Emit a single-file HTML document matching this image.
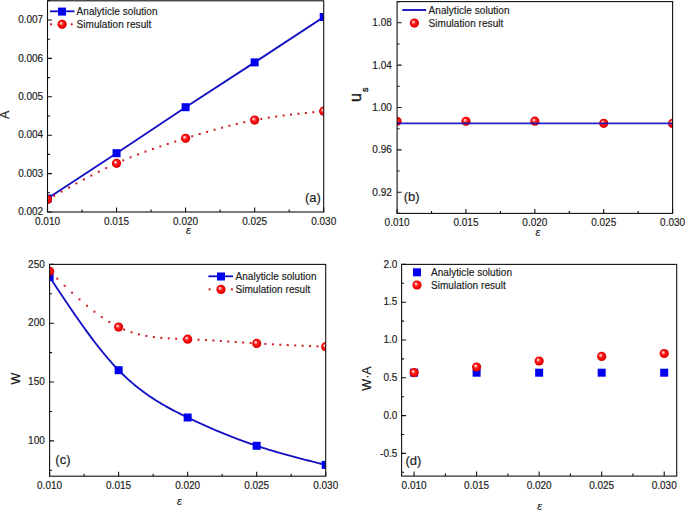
<!DOCTYPE html>
<html><head><meta charset="utf-8"><style>
html,body{margin:0;padding:0;background:#fff;}
body{width:685px;height:510px;overflow:hidden;}
svg{display:block;}
text{font-family:"Liberation Sans", sans-serif;fill:#1a1a1a;stroke:#1a1a1a;stroke-width:0.16px;}
.tk{font-size:10px;}
.lg{font-size:10px;letter-spacing:0.05px;}
.pl{font-size:13px;}
.at{font-size:12.5px;}
.us{font-size:16px;stroke-width:0.4px;}
.ep{font-family:"Liberation Sans",sans-serif;font-style:italic;font-size:11px;}
</style></head><body>
<svg width="685" height="510" viewBox="0 0 685 510">
<defs>
<radialGradient id="bg" cx="0.5" cy="0.5" r="0.5" fx="0.35" fy="0.34"><stop offset="0" stop-color="#ffeaea"/><stop offset="0.22" stop-color="#ffa0a0"/><stop offset="0.42" stop-color="#ff2222"/><stop offset="0.8" stop-color="#f00000"/><stop offset="1" stop-color="#d00000"/></radialGradient>
<clipPath id="ca"><rect x="47.5" y="0.8" width="276.2" height="211.2"/></clipPath>
<clipPath id="cb"><rect x="397.1" y="1.6" width="275.5" height="211.8"/></clipPath>
<clipPath id="cc"><rect x="49.6" y="264.4" width="276.1" height="211.8"/></clipPath>
<clipPath id="cd"><rect x="401.6" y="264.4" width="275.1" height="211.7"/></clipPath>
</defs>
<rect width="685" height="510" fill="#fff"/>
<g clip-path="url(#ca)">
<path d="M47.50,198.60 L116.55,153.20 L185.60,107.20 L254.65,62.40 L323.70,17.00" stroke="#1410c4" stroke-width="1.85" fill="none" stroke-linejoin="round"/>
<rect x="53.15" y="194.76" width="2.0" height="2.0" fill="#d01c24"/>
<rect x="60.58" y="190.59" width="2.0" height="2.0" fill="#d01c24"/>
<rect x="68.01" y="186.47" width="2.0" height="2.0" fill="#d01c24"/>
<rect x="75.44" y="182.4" width="2.0" height="2.0" fill="#d01c24"/>
<rect x="82.87" y="178.41" width="2.0" height="2.0" fill="#d01c24"/>
<rect x="90.3" y="174.52" width="2.0" height="2.0" fill="#d01c24"/>
<rect x="97.73" y="170.75" width="2.0" height="2.0" fill="#d01c24"/>
<rect x="105.16" y="167.11" width="2.0" height="2.0" fill="#d01c24"/>
<rect x="112.59" y="163.64" width="2.0" height="2.0" fill="#d01c24"/>
<rect x="122.2" y="159.4" width="2.0" height="2.0" fill="#d01c24"/>
<rect x="129.63" y="156.33" width="2.0" height="2.0" fill="#d01c24"/>
<rect x="137.06" y="153.41" width="2.0" height="2.0" fill="#d01c24"/>
<rect x="144.49" y="150.63" width="2.0" height="2.0" fill="#d01c24"/>
<rect x="151.92" y="147.97" width="2.0" height="2.0" fill="#d01c24"/>
<rect x="159.35" y="145.41" width="2.0" height="2.0" fill="#d01c24"/>
<rect x="166.78" y="142.95" width="2.0" height="2.0" fill="#d01c24"/>
<rect x="174.21" y="140.55" width="2.0" height="2.0" fill="#d01c24"/>
<rect x="181.64" y="138.22" width="2.0" height="2.0" fill="#d01c24"/>
<rect x="191.25" y="135.26" width="2.0" height="2.0" fill="#d01c24"/>
<rect x="198.68" y="133.02" width="2.0" height="2.0" fill="#d01c24"/>
<rect x="206.11" y="130.84" width="2.0" height="2.0" fill="#d01c24"/>
<rect x="213.54" y="128.73" width="2.0" height="2.0" fill="#d01c24"/>
<rect x="220.97" y="126.7" width="2.0" height="2.0" fill="#d01c24"/>
<rect x="228.4" y="124.77" width="2.0" height="2.0" fill="#d01c24"/>
<rect x="235.83" y="122.95" width="2.0" height="2.0" fill="#d01c24"/>
<rect x="243.26" y="121.25" width="2.0" height="2.0" fill="#d01c24"/>
<rect x="250.69" y="119.68" width="2.0" height="2.0" fill="#d01c24"/>
<rect x="260.3" y="117.88" width="2.0" height="2.0" fill="#d01c24"/>
<rect x="267.73" y="116.64" width="2.0" height="2.0" fill="#d01c24"/>
<rect x="275.16" y="115.53" width="2.0" height="2.0" fill="#d01c24"/>
<rect x="282.59" y="114.52" width="2.0" height="2.0" fill="#d01c24"/>
<rect x="290.02" y="113.6" width="2.0" height="2.0" fill="#d01c24"/>
<rect x="297.45" y="112.76" width="2.0" height="2.0" fill="#d01c24"/>
<rect x="304.88" y="111.97" width="2.0" height="2.0" fill="#d01c24"/>
<rect x="312.31" y="111.21" width="2.0" height="2.0" fill="#d01c24"/>
<rect x="319.74" y="110.49" width="2.0" height="2.0" fill="#d01c24"/>
<rect x="43.5" y="194.6" width="8" height="8" fill="#0000f0"/>
<rect x="112.55" y="149.2" width="8" height="8" fill="#0000f0"/>
<rect x="181.6" y="103.2" width="8" height="8" fill="#0000f0"/>
<rect x="250.65" y="58.4" width="8" height="8" fill="#0000f0"/>
<rect x="319.7" y="13" width="8" height="8" fill="#0000f0"/>
<circle cx="47.5" cy="199.5" r="4.6" fill="url(#bg)"/>
<circle cx="116.55" cy="163.3" r="4.6" fill="url(#bg)"/>
<circle cx="185.6" cy="138.3" r="4.6" fill="url(#bg)"/>
<circle cx="254.65" cy="120.1" r="4.6" fill="url(#bg)"/>
<circle cx="323.7" cy="111.2" r="4.6" fill="url(#bg)"/>
</g>
<path d="M47.5,212V207.5 M116.55,212V207.5 M185.6,212V207.5 M254.65,212V207.5 M323.7,212V207.5 M82.03,212V209.5 M151.08,212V209.5 M220.12,212V209.5 M289.18,212V209.5 M47.5,212H52 M47.5,173.6H52 M47.5,135.2H52 M47.5,96.8H52 M47.5,58.4H52 M47.5,20H52 M47.5,192.8H50 M47.5,154.4H50 M47.5,116H50 M47.5,77.6H50 M47.5,39.2H50 M47.5,0.8H50" stroke="#111" stroke-width="1.1" fill="none"/>
<rect x="47.5" y="0.8" width="276.2" height="211.2" stroke="#111" stroke-width="1.1" fill="none"/>
<text x="43.2" y="215.1" text-anchor="end" class="tk">0.002</text>
<text x="43.2" y="176.7" text-anchor="end" class="tk">0.003</text>
<text x="43.2" y="138.3" text-anchor="end" class="tk">0.004</text>
<text x="43.2" y="99.9" text-anchor="end" class="tk">0.005</text>
<text x="43.2" y="61.5" text-anchor="end" class="tk">0.006</text>
<text x="43.2" y="23.1" text-anchor="end" class="tk">0.007</text>
<text x="47.5" y="224.8" text-anchor="middle" class="tk">0.010</text>
<text x="116.55" y="224.8" text-anchor="middle" class="tk">0.015</text>
<text x="185.6" y="224.8" text-anchor="middle" class="tk">0.020</text>
<text x="254.65" y="224.8" text-anchor="middle" class="tk">0.025</text>
<text x="323.7" y="224.8" text-anchor="middle" class="tk">0.030</text>
<path d="M50,11.3H74.5" stroke="#1410c4" stroke-width="1.85"/>
<rect x="58" y="7.6" width="8" height="8" fill="#0000f0"/>
<rect x="50" y="23.3" width="2.0" height="2.0" fill="#d01c24"/>
<rect x="70.7" y="23.3" width="2.0" height="2.0" fill="#d01c24"/>
<circle cx="62.1" cy="24.3" r="4.6" fill="url(#bg)"/>
<text x="76.6" y="15" class="lg">Analyticle solution</text>
<text x="76.6" y="28" class="lg">Simulation result</text>
<text x="304.9" y="202.4" class="pl">(a)</text>
<text transform="translate(9.2,114.8) rotate(-90)" text-anchor="middle" class="at">A</text>
<text x="188.5" y="233.5" text-anchor="middle" class="ep">ε</text>
<g clip-path="url(#cb)">
<circle cx="397.1" cy="121.3" r="4.6" fill="url(#bg)"/>
<circle cx="465.98" cy="121.3" r="4.6" fill="url(#bg)"/>
<circle cx="534.85" cy="121.2" r="4.6" fill="url(#bg)"/>
<circle cx="603.73" cy="123.3" r="4.6" fill="url(#bg)"/>
<circle cx="672.6" cy="123.4" r="4.6" fill="url(#bg)"/>
<path d="M397.1,123.35H672.6" stroke="#1410c4" stroke-width="1.85" opacity="0.92"/>
</g>
<path d="M397.1,213.4V208.9 M465.98,213.4V208.9 M534.85,213.4V208.9 M603.73,213.4V208.9 M672.6,213.4V208.9 M431.54,213.4V210.9 M500.41,213.4V210.9 M569.29,213.4V210.9 M638.16,213.4V210.9 M397.1,192.22H401.6 M397.1,149.86H401.6 M397.1,107.5H401.6 M397.1,65.14H401.6 M397.1,22.78H401.6 M397.1,213.4H399.6 M397.1,171.04H399.6 M397.1,128.68H399.6 M397.1,86.32H399.6 M397.1,43.96H399.6 M397.1,1.6H399.6" stroke="#111" stroke-width="1.1" fill="none"/>
<rect x="397.1" y="1.6" width="275.5" height="211.8" stroke="#111" stroke-width="1.1" fill="none"/>
<text x="391.8" y="195.62" text-anchor="end" class="tk">0.92</text>
<text x="391.8" y="153.26" text-anchor="end" class="tk">0.96</text>
<text x="391.8" y="110.9" text-anchor="end" class="tk">1.00</text>
<text x="391.8" y="68.54" text-anchor="end" class="tk">1.04</text>
<text x="391.8" y="26.18" text-anchor="end" class="tk">1.08</text>
<text x="397.1" y="226.2" text-anchor="middle" class="tk">0.010</text>
<text x="465.98" y="226.2" text-anchor="middle" class="tk">0.015</text>
<text x="534.85" y="226.2" text-anchor="middle" class="tk">0.020</text>
<text x="603.73" y="226.2" text-anchor="middle" class="tk">0.025</text>
<text x="672.6" y="226.2" text-anchor="middle" class="tk">0.030</text>
<path d="M402.3,10H426.2" stroke="#1410c4" stroke-width="1.85"/>
<circle cx="414.4" cy="23.1" r="4.6" fill="url(#bg)"/>
<text x="428.6" y="14" class="lg">Analyticle solution</text>
<text x="428.6" y="27" class="lg">Simulation result</text>
<text x="403.7" y="200.9" class="pl">(b)</text>
<text transform="translate(361.2,101.9) rotate(-90)" class="us">u<tspan font-size="9" dx="1" dy="6.6">s</tspan></text>
<text x="537.8" y="236.2" text-anchor="middle" class="ep">ε</text>
<g clip-path="url(#cc)">
<path d="M49.60,277.00 L50.52,278.40 L51.45,279.79 L52.37,281.19 L53.29,282.58 L54.22,283.97 L55.14,285.37 L56.06,286.76 L56.99,288.15 L57.91,289.54 L58.83,290.93 L59.76,292.31 L60.68,293.70 L61.60,295.08 L62.53,296.46 L63.45,297.84 L64.37,299.22 L65.30,300.59 L66.22,301.96 L67.14,303.33 L68.07,304.69 L68.99,306.06 L69.92,307.41 L70.84,308.77 L71.76,310.12 L72.69,311.47 L73.61,312.81 L74.53,314.15 L75.46,315.49 L76.38,316.82 L77.30,318.14 L78.23,319.46 L79.15,320.78 L80.07,322.09 L81.00,323.40 L81.92,324.70 L82.84,325.99 L83.77,327.28 L84.69,328.56 L85.61,329.84 L86.54,331.11 L87.46,332.38 L88.38,333.64 L89.31,334.89 L90.23,336.13 L91.15,337.37 L92.08,338.60 L93.00,339.82 L93.92,341.04 L94.85,342.24 L95.77,343.44 L96.69,344.64 L97.62,345.82 L98.54,347.00 L99.46,348.16 L100.39,349.32 L101.31,350.47 L102.23,351.61 L103.16,352.74 L104.08,353.87 L105.00,354.98 L105.93,356.08 L106.85,357.18 L107.77,358.26 L108.70,359.33 L109.62,360.40 L110.55,361.45 L111.47,362.49 L112.39,363.53 L113.32,364.55 L114.24,365.56 L115.16,366.56 L116.09,367.54 L117.01,368.52 L117.93,369.48 L118.86,370.44 L119.78,371.38 L120.70,372.31 L121.63,373.22 L122.55,374.13 L123.47,375.03 L124.40,375.91 L125.32,376.78 L126.24,377.64 L127.17,378.49 L128.09,379.33 L129.01,380.16 L129.94,380.98 L130.86,381.79 L131.78,382.59 L132.71,383.38 L133.63,384.16 L134.55,384.93 L135.48,385.69 L136.40,386.44 L137.32,387.18 L138.25,387.91 L139.17,388.64 L140.09,389.35 L141.02,390.06 L141.94,390.75 L142.86,391.44 L143.79,392.12 L144.71,392.79 L145.63,393.46 L146.56,394.11 L147.48,394.76 L148.41,395.40 L149.33,396.04 L150.25,396.66 L151.18,397.28 L152.10,397.89 L153.02,398.50 L153.95,399.10 L154.87,399.69 L155.79,400.27 L156.72,400.85 L157.64,401.42 L158.56,401.99 L159.49,402.55 L160.41,403.10 L161.33,403.65 L162.26,404.20 L163.18,404.73 L164.10,405.27 L165.03,405.79 L165.95,406.32 L166.87,406.84 L167.80,407.35 L168.72,407.86 L169.64,408.36 L170.57,408.86 L171.49,409.36 L172.41,409.85 L173.34,410.33 L174.26,410.82 L175.18,411.30 L176.11,411.78 L177.03,412.25 L177.95,412.72 L178.88,413.19 L179.80,413.65 L180.72,414.11 L181.65,414.57 L182.57,415.03 L183.49,415.48 L184.42,415.93 L185.34,416.38 L186.26,416.83 L187.19,417.28 L188.11,417.72 L189.04,418.16 L189.96,418.61 L190.88,419.05 L191.81,419.48 L192.73,419.92 L193.65,420.35 L194.58,420.79 L195.50,421.22 L196.42,421.65 L197.35,422.08 L198.27,422.50 L199.19,422.93 L200.12,423.35 L201.04,423.77 L201.96,424.19 L202.89,424.61 L203.81,425.02 L204.73,425.44 L205.66,425.85 L206.58,426.26 L207.50,426.67 L208.43,427.08 L209.35,427.49 L210.27,427.89 L211.20,428.29 L212.12,428.69 L213.04,429.09 L213.97,429.49 L214.89,429.88 L215.81,430.28 L216.74,430.67 L217.66,431.06 L218.58,431.45 L219.51,431.83 L220.43,432.22 L221.35,432.60 L222.28,432.98 L223.20,433.36 L224.12,433.74 L225.05,434.11 L225.97,434.48 L226.89,434.86 L227.82,435.23 L228.74,435.59 L229.67,435.96 L230.59,436.32 L231.51,436.69 L232.44,437.05 L233.36,437.40 L234.28,437.76 L235.21,438.11 L236.13,438.47 L237.05,438.82 L237.98,439.17 L238.90,439.51 L239.82,439.86 L240.75,440.20 L241.67,440.54 L242.59,440.88 L243.52,441.22 L244.44,441.55 L245.36,441.89 L246.29,442.22 L247.21,442.54 L248.13,442.87 L249.06,443.20 L249.98,443.52 L250.90,443.84 L251.83,444.16 L252.75,444.48 L253.67,444.79 L254.60,445.10 L255.52,445.41 L256.44,445.72 L257.37,446.03 L258.29,446.33 L259.21,446.64 L260.14,446.94 L261.06,447.24 L261.98,447.53 L262.91,447.83 L263.83,448.12 L264.75,448.41 L265.68,448.70 L266.60,448.99 L267.53,449.27 L268.45,449.56 L269.37,449.84 L270.30,450.12 L271.22,450.40 L272.14,450.67 L273.07,450.95 L273.99,451.22 L274.91,451.50 L275.84,451.77 L276.76,452.04 L277.68,452.30 L278.61,452.57 L279.53,452.84 L280.45,453.10 L281.38,453.36 L282.30,453.62 L283.22,453.88 L284.15,454.14 L285.07,454.40 L285.99,454.65 L286.92,454.91 L287.84,455.16 L288.76,455.42 L289.69,455.67 L290.61,455.92 L291.53,456.17 L292.46,456.41 L293.38,456.66 L294.30,456.91 L295.23,457.15 L296.15,457.40 L297.07,457.64 L298.00,457.88 L298.92,458.12 L299.84,458.37 L300.77,458.61 L301.69,458.85 L302.61,459.08 L303.54,459.32 L304.46,459.56 L305.38,459.80 L306.31,460.03 L307.23,460.27 L308.16,460.50 L309.08,460.74 L310.00,460.97 L310.93,461.21 L311.85,461.44 L312.77,461.67 L313.70,461.90 L314.62,462.14 L315.54,462.37 L316.47,462.60 L317.39,462.83 L318.31,463.06 L319.24,463.29 L320.16,463.52 L321.08,463.75 L322.01,463.98 L322.93,464.21 L323.85,464.44 L324.78,464.67 L325.70,464.90" stroke="#1410c4" stroke-width="1.85" fill="none" stroke-linejoin="round"/>
<rect x="48.76" y="270.46" width="2.0" height="2.0" fill="#d01c24"/>
<rect x="56.2" y="277.66" width="2.0" height="2.0" fill="#d01c24"/>
<rect x="63.64" y="284.77" width="2.0" height="2.0" fill="#d01c24"/>
<rect x="71.07" y="291.72" width="2.0" height="2.0" fill="#d01c24"/>
<rect x="78.51" y="298.41" width="2.0" height="2.0" fill="#d01c24"/>
<rect x="85.95" y="304.76" width="2.0" height="2.0" fill="#d01c24"/>
<rect x="93.39" y="310.7" width="2.0" height="2.0" fill="#d01c24"/>
<rect x="100.82" y="316.13" width="2.0" height="2.0" fill="#d01c24"/>
<rect x="108.26" y="320.97" width="2.0" height="2.0" fill="#d01c24"/>
<rect x="115.7" y="325.14" width="2.0" height="2.0" fill="#d01c24"/>
<rect x="123.13" y="328.57" width="2.0" height="2.0" fill="#d01c24"/>
<rect x="130.57" y="331.28" width="2.0" height="2.0" fill="#d01c24"/>
<rect x="138.01" y="333.38" width="2.0" height="2.0" fill="#d01c24"/>
<rect x="145.44" y="334.95" width="2.0" height="2.0" fill="#d01c24"/>
<rect x="152.88" y="336.08" width="2.0" height="2.0" fill="#d01c24"/>
<rect x="160.32" y="336.87" width="2.0" height="2.0" fill="#d01c24"/>
<rect x="167.75" y="337.39" width="2.0" height="2.0" fill="#d01c24"/>
<rect x="175.19" y="337.76" width="2.0" height="2.0" fill="#d01c24"/>
<rect x="182.63" y="338.04" width="2.0" height="2.0" fill="#d01c24"/>
<rect x="190.07" y="338.35" width="2.0" height="2.0" fill="#d01c24"/>
<rect x="197.5" y="338.7" width="2.0" height="2.0" fill="#d01c24"/>
<rect x="204.94" y="339.11" width="2.0" height="2.0" fill="#d01c24"/>
<rect x="212.38" y="339.56" width="2.0" height="2.0" fill="#d01c24"/>
<rect x="219.81" y="340.03" width="2.0" height="2.0" fill="#d01c24"/>
<rect x="227.25" y="340.53" width="2.0" height="2.0" fill="#d01c24"/>
<rect x="234.69" y="341.03" width="2.0" height="2.0" fill="#d01c24"/>
<rect x="242.12" y="341.53" width="2.0" height="2.0" fill="#d01c24"/>
<rect x="249.56" y="342.02" width="2.0" height="2.0" fill="#d01c24"/>
<rect x="257" y="342.48" width="2.0" height="2.0" fill="#d01c24"/>
<rect x="264.44" y="342.91" width="2.0" height="2.0" fill="#d01c24"/>
<rect x="271.87" y="343.32" width="2.0" height="2.0" fill="#d01c24"/>
<rect x="279.31" y="343.7" width="2.0" height="2.0" fill="#d01c24"/>
<rect x="286.75" y="344.06" width="2.0" height="2.0" fill="#d01c24"/>
<rect x="294.18" y="344.4" width="2.0" height="2.0" fill="#d01c24"/>
<rect x="301.62" y="344.73" width="2.0" height="2.0" fill="#d01c24"/>
<rect x="309.06" y="345.05" width="2.0" height="2.0" fill="#d01c24"/>
<rect x="316.5" y="345.36" width="2.0" height="2.0" fill="#d01c24"/>
<rect x="323.93" y="345.67" width="2.0" height="2.0" fill="#d01c24"/>
<rect x="45.6" y="273" width="8" height="8" fill="#0000f0"/>
<rect x="114.62" y="366.2" width="8" height="8" fill="#0000f0"/>
<rect x="183.65" y="413.5" width="8" height="8" fill="#0000f0"/>
<rect x="252.68" y="441.8" width="8" height="8" fill="#0000f0"/>
<rect x="321.7" y="460.9" width="8" height="8" fill="#0000f0"/>
<circle cx="49.6" cy="271.3" r="4.6" fill="url(#bg)"/>
<circle cx="118.62" cy="327.1" r="4.6" fill="url(#bg)"/>
<circle cx="187.65" cy="339.2" r="4.6" fill="url(#bg)"/>
<circle cx="256.68" cy="343.4" r="4.6" fill="url(#bg)"/>
<circle cx="325.7" cy="346.7" r="4.6" fill="url(#bg)"/>
</g>
<path d="M49.6,476.2V471.7 M118.62,476.2V471.7 M187.65,476.2V471.7 M256.68,476.2V471.7 M325.7,476.2V471.7 M84.11,476.2V473.7 M153.14,476.2V473.7 M222.16,476.2V473.7 M291.19,476.2V473.7 M49.6,440.9H54.1 M49.6,382.07H54.1 M49.6,323.23H54.1 M49.6,264.4H54.1 M49.6,470.32H52.1 M49.6,411.48H52.1 M49.6,352.65H52.1 M49.6,293.82H52.1" stroke="#111" stroke-width="1.1" fill="none"/>
<rect x="49.6" y="264.4" width="276.1" height="211.8" stroke="#111" stroke-width="1.1" fill="none"/>
<text x="44.8" y="444" text-anchor="end" class="tk">100</text>
<text x="44.8" y="385.17" text-anchor="end" class="tk">150</text>
<text x="44.8" y="326.33" text-anchor="end" class="tk">200</text>
<text x="44.8" y="267.5" text-anchor="end" class="tk">250</text>
<text x="49.6" y="489" text-anchor="middle" class="tk">0.010</text>
<text x="118.62" y="489" text-anchor="middle" class="tk">0.015</text>
<text x="187.65" y="489" text-anchor="middle" class="tk">0.020</text>
<text x="256.68" y="489" text-anchor="middle" class="tk">0.025</text>
<text x="325.7" y="489" text-anchor="middle" class="tk">0.030</text>
<path d="M208.4,276.3H232.9" stroke="#1410c4" stroke-width="1.85"/>
<rect x="217" y="272.5" width="8" height="8" fill="#0000f0"/>
<rect x="208.6" y="288.4" width="2.0" height="2.0" fill="#d01c24"/>
<rect x="230.9" y="288.4" width="2.0" height="2.0" fill="#d01c24"/>
<circle cx="221" cy="289.4" r="4.6" fill="url(#bg)"/>
<text x="235.5" y="279.8" class="lg">Analyticle solution</text>
<text x="235.5" y="292.9" class="lg">Simulation result</text>
<text x="55.35" y="463.6" class="pl">(c)</text>
<text transform="translate(19.8,378.7) rotate(-90)" text-anchor="middle" class="at">W</text>
<text x="179.5" y="505" text-anchor="middle" class="ep">ε</text>
<g clip-path="url(#cd)">
<rect x="410.1" y="368.7" width="8" height="8" fill="#0000f0"/>
<rect x="472.63" y="368.7" width="8" height="8" fill="#0000f0"/>
<rect x="535.15" y="368.7" width="8" height="8" fill="#0000f0"/>
<rect x="597.67" y="368.7" width="8" height="8" fill="#0000f0"/>
<rect x="660.2" y="368.7" width="8" height="8" fill="#0000f0"/>
<circle cx="414.1" cy="372.6" r="4.6" fill="url(#bg)"/>
<circle cx="476.63" cy="367" r="4.6" fill="url(#bg)"/>
<circle cx="539.15" cy="361" r="4.6" fill="url(#bg)"/>
<circle cx="601.67" cy="356.4" r="4.6" fill="url(#bg)"/>
<circle cx="664.2" cy="353.5" r="4.6" fill="url(#bg)"/>
</g>
<path d="M414.1,476.1V471.6 M476.63,476.1V471.6 M539.15,476.1V471.6 M601.67,476.1V471.6 M664.2,476.1V471.6 M445.37,476.1V473.6 M507.89,476.1V473.6 M570.41,476.1V473.6 M632.93,476.1V473.6 M401.6,453.42H406.1 M401.6,415.61H406.1 M401.6,377.81H406.1 M401.6,340.01H406.1 M401.6,302.2H406.1 M401.6,264.4H406.1 M401.6,472.32H404.1 M401.6,434.52H404.1 M401.6,396.71H404.1 M401.6,358.91H404.1 M401.6,321.11H404.1 M401.6,283.3H404.1" stroke="#111" stroke-width="1.1" fill="none"/>
<rect x="401.6" y="264.4" width="275.1" height="211.7" stroke="#111" stroke-width="1.1" fill="none"/>
<text x="397.3" y="456.52" text-anchor="end" class="tk">-0.5</text>
<text x="397.3" y="418.71" text-anchor="end" class="tk">0.0</text>
<text x="397.3" y="380.91" text-anchor="end" class="tk">0.5</text>
<text x="397.3" y="343.11" text-anchor="end" class="tk">1.0</text>
<text x="397.3" y="305.3" text-anchor="end" class="tk">1.5</text>
<text x="397.3" y="267.5" text-anchor="end" class="tk">2.0</text>
<text x="414.1" y="488.9" text-anchor="middle" class="tk">0.010</text>
<text x="476.63" y="488.9" text-anchor="middle" class="tk">0.015</text>
<text x="539.15" y="488.9" text-anchor="middle" class="tk">0.020</text>
<text x="601.67" y="488.9" text-anchor="middle" class="tk">0.025</text>
<text x="664.2" y="488.9" text-anchor="middle" class="tk">0.030</text>
<rect x="413" y="268.3" width="8" height="8" fill="#0000f0"/>
<circle cx="417" cy="285" r="4.6" fill="url(#bg)"/>
<text x="431" y="276" class="lg">Analyticle solution</text>
<text x="431" y="289" class="lg">Simulation result</text>
<text x="405.45" y="465.4" class="pl">(d)</text>
<text transform="translate(370.9,378.5) rotate(-90)" text-anchor="middle" class="at">W·A</text>
<text x="539.6" y="510.4" text-anchor="middle" class="ep">ε</text>
</svg>
</body></html>
